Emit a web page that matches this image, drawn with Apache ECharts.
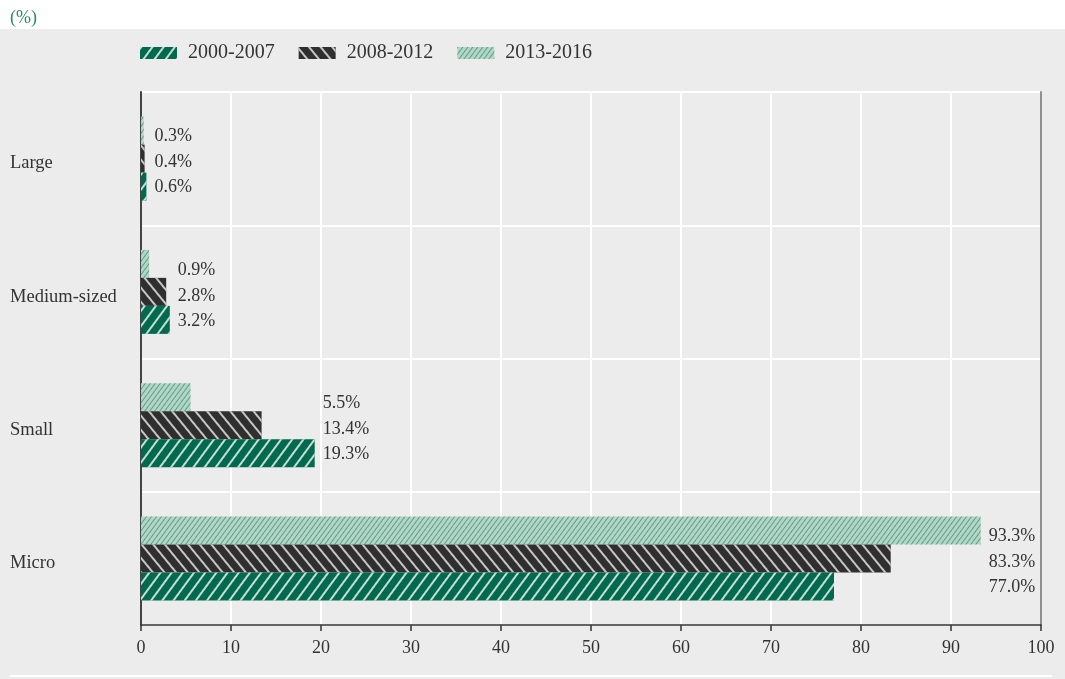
<!DOCTYPE html>
<html>
<head>
<meta charset="utf-8">
<script src="https://cdn.jsdelivr.net/npm/echarts@6/dist/echarts.min.js"></script>
<style>
  html, body { margin: 0; padding: 0; background: #ececec; }
  #chart { width: 1065px; height: 679px; }
</style>
</head>
<body>
<div id="chart"></div>
<script>
// Firm size categories, bottom to top on the vertical axis
const categories = ['Micro', 'Small', 'Medium-sized', 'Large'];
const periods = ['2000-2007', '2008-2012', '2013-2016'];

// Share of firms (%) per period
const values2000 = [77.0, 19.3, 3.2, 0.6];
const values2008 = [83.3, 13.4, 2.8, 0.4];
const values2013 = [93.3, 5.5, 0.9, 0.3];

const xTicks = { min: 0, max: 100, interval: 10 };

const FONT = '"Liberation Serif", "DejaVu Serif", serif';
const TEXT = '#333333';

const chart = echarts.init(document.getElementById('chart'), null, { renderer: 'canvas' });

// Series listed top bar first, so the earliest period sits at the bottom of each group
const seriesDefs = [
  { name: periods[2], values: values2013, color: '#b6d5c9', dy: 6,
    decal: { symbol: 'rect', dashArrayX: [1, 0], dashArrayY: [1, 3], symbolSize: 1, rotation: -Math.PI / 4 - 0.15, color: 'rgba(60,150,115,0.8)' } },
  { name: periods[1], values: values2008, color: '#2f2f2f', dy: 4,
    decal: { symbol: 'rect', dashArrayX: [1, 0], dashArrayY: [2, 7], symbolSize: 1, rotation: Math.PI / 4 + 0.1, color: 'rgba(225,225,225,0.85)' } },
  { name: periods[0], values: values2000, color: '#006a4e', dy: 1,
    decal: { symbol: 'rect', dashArrayX: [1, 0], dashArrayY: [1.2, 7], symbolSize: 1, rotation: -Math.PI / 4 - 0.15, color: 'rgba(235,240,238,0.85)' } }
];

function buildSeries(offsets) {
  return seriesDefs.map((d, si) => ({
    name: d.name,
    type: 'bar',
    barWidth: 28,
    barGap: '0%',
    itemStyle: { color: d.color, decal: d.decal },
    data: d.values.map((v, ci) => ({
      value: v,
      label: {
        show: true,
        position: 'right',
        distance: 0,
        offset: offsets ? offsets[si][ci] : [0, 0],
        formatter: (p) => p.value.toFixed(1) + '%',
        fontFamily: FONT,
        fontSize: 18,
        color: TEXT
      }
    }))
  }));
}

const option = {
  backgroundColor: '#ececec',
  animation: false,
  aria: { enabled: false },
  graphic: [
    { type: 'rect', left: 0, top: 0, shape: { width: 1065, height: 29 }, style: { fill: '#ffffff' }, z: -1 },
    { type: 'text', left: 10, top: 9, style: { text: '(%)', font: '18px ' + FONT, fill: '#2e8a6c' } },
    { type: 'rect', left: 10, top: 675, shape: { width: 1042, height: 2 }, style: { fill: '#ffffff' } }
  ],
  legend: {
    data: periods,
    left: 135,
    top: 38,
    itemWidth: 37,
    itemHeight: 12,
    itemGap: 24,
    icon: 'rect',
    textStyle: { fontFamily: FONT, fontSize: 20, color: TEXT, padding: [0, 0, 0, 6] }
  },
  grid: { left: 141, right: 24, top: 92, bottom: 54, containLabel: false },
  xAxis: {
    type: 'value',
    min: xTicks.min,
    max: xTicks.max,
    interval: xTicks.interval,
    axisLine: { show: true, lineStyle: { color: '#333', width: 1.5 } },
    axisTick: { show: true, length: 6, lineStyle: { color: '#333', width: 1.5 } },
    axisLabel: { fontFamily: FONT, fontSize: 18, color: TEXT, margin: 14 },
    splitLine: { show: true, lineStyle: { color: '#ffffff', width: 2 } }
  },
  yAxis: [
    {
      type: 'category',
      data: categories,
      axisLine: { show: true, lineStyle: { color: '#444', width: 2 } },
      axisTick: { show: false },
      axisLabel: { fontFamily: FONT, fontSize: 18.5, color: TEXT, align: 'left', verticalAlign: 'top', lineHeight: 10, margin: 131 },
      splitLine: { show: true, lineStyle: { color: '#ffffff', width: 2 } }
    },
    {
      type: 'category',
      data: categories,
      position: 'right',
      axisLine: { show: true, lineStyle: { color: '#909090', width: 2 } },
      axisTick: { show: false },
      axisLabel: { show: false },
      splitLine: { show: false }
    }
  ],
  series: buildSeries(null)
};

chart.setOption(option);

// Align each group's value labels just past the longest bar of that group
const gap = 8;
const offsets = seriesDefs.map((d) => d.values.map((v, ci) => {
  const groupMax = Math.max(values2000[ci], values2008[ci], values2013[ci]);
  const xEnd = chart.convertToPixel({ xAxisIndex: 0 }, v);
  const xMax = chart.convertToPixel({ xAxisIndex: 0 }, groupMax);
  return [xMax - xEnd + gap, d.dy];
}));
chart.setOption({ series: buildSeries(offsets) });
</script>
</body>
</html>
